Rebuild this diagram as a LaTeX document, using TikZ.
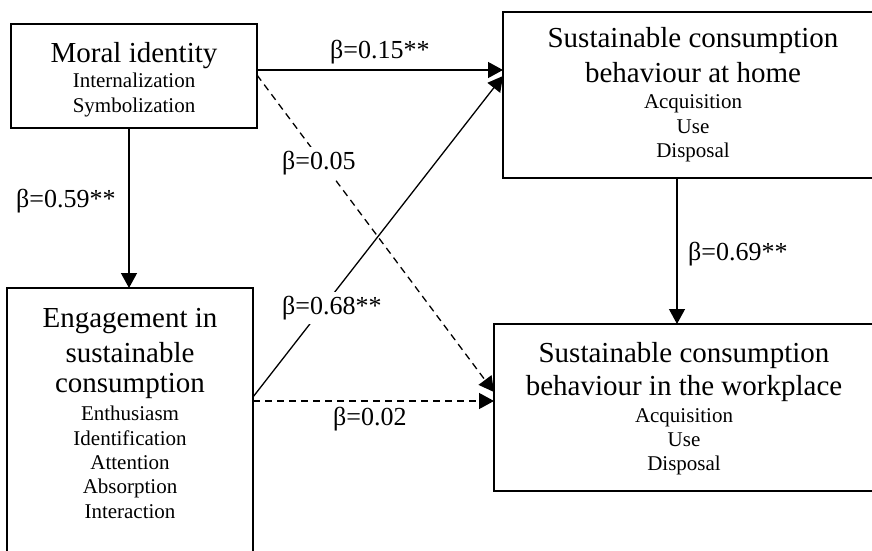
\documentclass[tikz,border=0pt]{standalone}
\usepackage{fontspec}
\setmainfont{Liberation Serif}
\usetikzlibrary{arrows.meta}
\tikzset{
  box/.style={draw, line width=1.5pt, rectangle, inner sep=0pt, outer sep=0pt},
  bigtxt/.style={font=\fontsize{29}{34}\selectfont, inner sep=0pt, anchor=base},
  smalltxt/.style={font=\fontsize{21}{24}\selectfont, inner sep=0pt, anchor=base},
  lab/.style={font=\fontsize{26}{30}\selectfont, fill=white, inner xsep=0pt, inner ysep=4pt, anchor=base west},
  arr/.style={line width=1.3pt, -{Triangle[width=16pt,length=15pt]}},
  darr/.style={arr, dash pattern=on 7pt off 5pt},
}
\begin{document}
\begin{tikzpicture}[x=1pt,y=-1pt]
\clip (0,0) rectangle (872,551);
\fill[white] (0,0) rectangle (872,551);

% boxes
\node[box, minimum width=246pt, minimum height=104pt] (mi) at (134,76) {};
\node[box, minimum width=380pt, minimum height=166pt] (home) at (693,95) {};
\node[box, minimum width=380pt, minimum height=167pt] (work) at (684,407.5) {};
\node[box, minimum width=246pt, minimum height=282pt] (eng) at (130,429) {};

% Moral identity text
\node[bigtxt] (mi1) at (134,63) {Moral identity};
\node[smalltxt] (mi2) at (134,88) {Internalization};
\node[smalltxt] (mi3) at (134,112) {Symbolization};

% Home text
\node[bigtxt] (h1) at (693,48) {Sustainable consumption};
\node[bigtxt] (h2) at (693,82) {behaviour at home};
\node[smalltxt] (h3) at (693,108) {Acquisition};
\node[smalltxt] (h4) at (693,133) {Use};
\node[smalltxt] (h5) at (693,157) {Disposal};

% Workplace text
\node[bigtxt] (w1) at (684,362) {Sustainable consumption};
\node[bigtxt] (w2) at (684,395) {behaviour in the workplace};
\node[smalltxt] (w3) at (684,422) {Acquisition};
\node[smalltxt] (w4) at (684,446) {Use};
\node[smalltxt] (w5) at (684,470) {Disposal};

% Engagement text
\node[bigtxt] (e1) at (130,327) {Engagement in};
\node[bigtxt] (e2) at (130,362) {sustainable};
\node[bigtxt] (e3) at (130,392) {consumption};
\node[smalltxt] (e4) at (130,420) {Enthusiasm};
\node[smalltxt] (e5) at (130,445) {Identification};
\node[smalltxt] (e6) at (130,469) {Attention};
\node[smalltxt] (e7) at (130,493) {Absorption};
\node[smalltxt] (e8) at (130,518) {Interaction};

% connectors
\draw[arr] ([yshift=6pt]mi.east) -- ([yshift=25pt]home.west);
\draw[darr] ([yshift=1pt]mi.east) -- ([yshift=15.5pt]work.west);
\draw[arr] ([xshift=-5pt]mi.south) -- ([xshift=-1pt]eng.north);
\draw[arr] ([yshift=32pt]eng.east) -- ([yshift=19pt]home.west);
\draw[darr] ([yshift=28pt]eng.east) -- ([yshift=6.5pt]work.west);
\draw[arr] ([xshift=-16pt]home.south) -- ([xshift=-7pt]work.north);

% labels
\node[lab] (l1) at (330,59) {β=0.15**};
\node[lab] (l2) at (282,169) {β=0.05};
\node[lab] (l3) at (282,314) {β=0.68**};
\node[lab] (l4) at (333,425) {β=0.02};
\node[lab] (l5) at (16,207) {β=0.59**};
\node[lab] (l6) at (688,260) {β=0.69**};
\end{tikzpicture}
\end{document}
